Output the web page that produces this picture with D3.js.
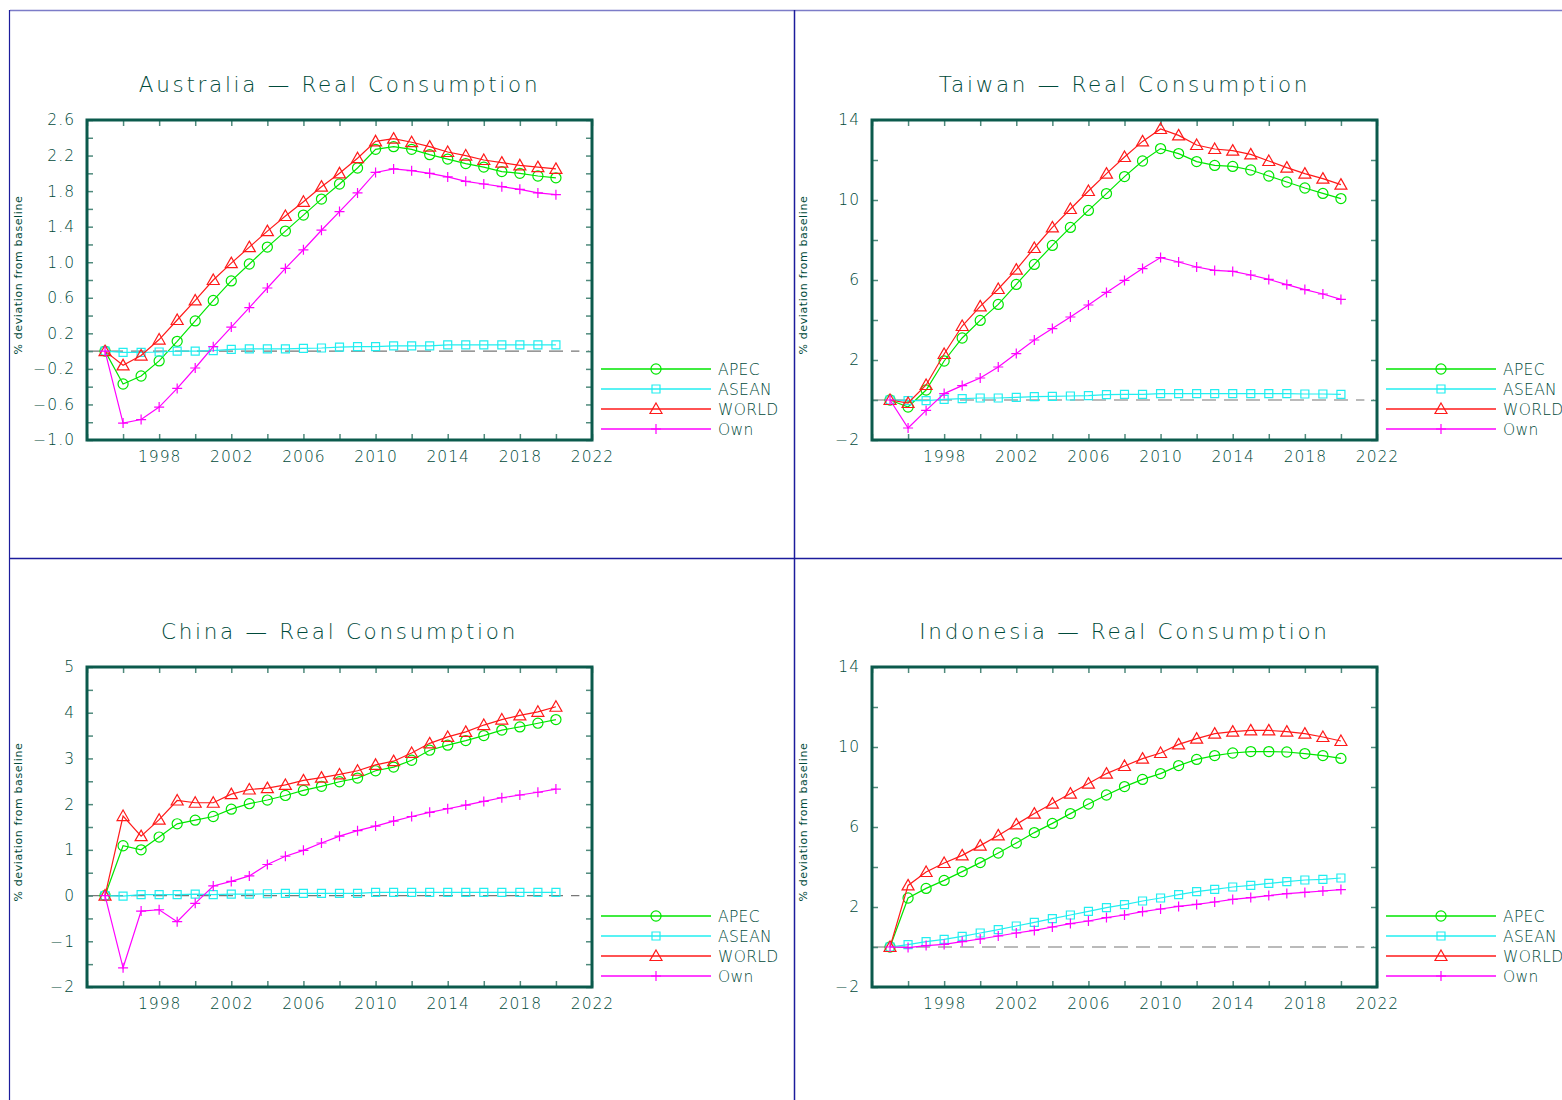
<!DOCTYPE html>
<html>
<head>
<meta charset="utf-8">
<script src="https://cdn.jsdelivr.net/npm/d3@7"></script>
<style>
  body { margin: 0; background: #fff; }
  svg { display: block; }
  text { font-family: "DejaVu Sans", sans-serif; font-weight: 200; fill: #004a3a; }
</style>
</head>
<body>
<div class="chart"></div>
<script>
// years 1995-2020
const years = d3.range(1995, 2021);
const seriesNames = ['APEC', 'ASEAN', 'WORLD', 'Own'];

// Australia
const ausApec  = [0,-0.37,-0.28,-0.11,0.11,0.34,0.57,0.79,0.98,1.17,1.35,1.53,1.71,1.88,2.06,2.27,2.30,2.27,2.21,2.16,2.11,2.07,2.02,2.00,1.97,1.95];
const ausAsean = [0,-0.015,-0.015,-0.01,0,0,0.005,0.02,0.025,0.025,0.025,0.03,0.035,0.045,0.05,0.05,0.06,0.06,0.06,0.07,0.07,0.07,0.07,0.07,0.07,0.07];
const ausWorld = [0,-0.16,-0.05,0.13,0.35,0.57,0.80,0.99,1.17,1.35,1.52,1.68,1.85,2.00,2.17,2.36,2.39,2.35,2.30,2.24,2.20,2.15,2.12,2.09,2.07,2.05];
const ausOwn   = [0,-0.81,-0.77,-0.63,-0.42,-0.19,0.05,0.27,0.49,0.71,0.93,1.14,1.36,1.57,1.78,2.01,2.05,2.03,2.00,1.96,1.91,1.88,1.85,1.82,1.78,1.76];

// Taiwan
const twnApec  = [0,-0.35,0.5,1.95,3.1,3.98,4.78,5.78,6.78,7.73,8.63,9.48,10.32,11.17,11.95,12.57,12.32,11.92,11.73,11.68,11.5,11.2,10.9,10.6,10.33,10.07];
const twnAsean = [0,-0.03,-0.03,0.03,0.07,0.1,0.1,0.13,0.17,0.18,0.2,0.22,0.27,0.28,0.28,0.32,0.32,0.32,0.32,0.32,0.32,0.32,0.32,0.3,0.3,0.28];
const twnWorld = [0,-0.15,0.75,2.3,3.7,4.68,5.55,6.52,7.6,8.63,9.55,10.45,11.32,12.15,12.93,13.55,13.23,12.75,12.55,12.47,12.28,11.95,11.62,11.32,11.07,10.77];
const twnOwn   = [0,-1.4,-0.52,0.32,0.72,1.1,1.65,2.32,3.0,3.57,4.15,4.75,5.38,5.98,6.57,7.12,6.9,6.65,6.48,6.43,6.25,6.03,5.77,5.52,5.3,5.03];

// China
const chnApec  = [0,1.09,1.0,1.28,1.57,1.65,1.73,1.89,2.01,2.09,2.19,2.30,2.39,2.49,2.57,2.73,2.81,2.96,3.18,3.29,3.39,3.50,3.62,3.69,3.77,3.85];
const chnAsean = [0,-0.01,0.02,0.02,0.02,0.03,0.02,0.03,0.03,0.04,0.05,0.05,0.05,0.05,0.05,0.07,0.07,0.07,0.07,0.07,0.07,0.07,0.07,0.07,0.07,0.07];
const chnWorld = [0,1.74,1.30,1.66,2.08,2.03,2.03,2.22,2.32,2.35,2.42,2.52,2.58,2.65,2.73,2.86,2.94,3.12,3.33,3.47,3.58,3.73,3.85,3.94,4.02,4.13];
const chnOwn   = [0,-1.58,-0.34,-0.31,-0.57,-0.17,0.21,0.31,0.43,0.68,0.86,0.99,1.15,1.30,1.42,1.52,1.63,1.73,1.82,1.90,1.98,2.06,2.14,2.20,2.26,2.33];

// Indonesia
const idnApec  = [0,2.45,2.93,3.33,3.77,4.22,4.7,5.2,5.72,6.18,6.67,7.15,7.6,8.02,8.38,8.67,9.07,9.38,9.57,9.7,9.77,9.77,9.75,9.67,9.57,9.43];
const idnAsean = [0,0.12,0.27,0.38,0.53,0.7,0.87,1.05,1.23,1.42,1.6,1.78,1.97,2.12,2.3,2.45,2.62,2.77,2.88,3.0,3.08,3.18,3.27,3.35,3.38,3.45];
const idnWorld = [0,3.08,3.75,4.2,4.58,5.07,5.58,6.13,6.67,7.17,7.67,8.17,8.67,9.05,9.42,9.7,10.13,10.42,10.67,10.77,10.83,10.83,10.77,10.67,10.5,10.3];
const idnOwn   = [0,-0.03,0.07,0.13,0.27,0.4,0.55,0.7,0.83,1.0,1.17,1.3,1.47,1.6,1.77,1.9,2.03,2.13,2.25,2.38,2.47,2.57,2.67,2.73,2.8,2.87];

// tick labels
const xLabelTicks = [1998, 2002, 2006, 2010, 2014, 2018, 2022];
const ausTicks = [-1.0,-0.6,-0.2,0.2,0.6,1.0,1.4,1.8,2.2,2.6];
const twnTicks = [-2,2,6,10,14];
const chnTicks = [-2,-1,0,1,2,3,4,5];
const idnTicks = [-2,2,6,10,14];

const panels = [
  {title:'Australia \u2014 Real Consumption', ox:0,   oy:0,   ticks:ausTicks, fmt:'.1f', data:[ausApec,ausAsean,ausWorld,ausOwn]},
  {title:'Taiwan \u2014 Real Consumption',    ox:785, oy:0,   ticks:twnTicks, fmt:'d',   data:[twnApec,twnAsean,twnWorld,twnOwn]},
  {title:'China \u2014 Real Consumption',     ox:0,   oy:547, ticks:chnTicks, fmt:'d',   data:[chnApec,chnAsean,chnWorld,chnOwn]},
  {title:'Indonesia \u2014 Real Consumption', ox:785, oy:547, ticks:idnTicks, fmt:'d',   data:[idnApec,idnAsean,idnWorld,idnOwn]}
];

const colors = {APEC:'#00e600', ASEAN:'#22eef0', WORLD:'#ff1a1a', Own:'#ff00ff'};
const ink = '#004a3a';
const frame = '#0b5a4c';

const W = 1562, H = 1100;
const svg = d3.select('.chart').append('svg').attr('width', W).attr('height', H);

// panel divider lines
svg.append('line').attr('x1',10).attr('x2',W).attr('y1',10.5).attr('y2',10.5).attr('stroke','#7c7cc8').attr('stroke-width',1.5);
svg.append('line').attr('x1',9.5).attr('x2',9.5).attr('y1',10).attr('y2',H).attr('stroke','#1c1c9c').attr('stroke-width',1.2);
svg.append('line').attr('x1',794.5).attr('x2',794.5).attr('y1',10).attr('y2',H).attr('stroke','#1c1c9c').attr('stroke-width',1.5);
svg.append('line').attr('x1',10).attr('x2',W).attr('y1',558.5).attr('y2',558.5).attr('stroke','#1c1c9c').attr('stroke-width',1.5);

const box = {left:87, top:120, width:505, height:320};

function markerPath(name){
  if(name==='APEC') return d3.symbol(d3.symbolCircle, 80)();
  if(name==='ASEAN') return 'M-4,-4H4V4H-4Z';
  if(name==='WORLD') return 'M0,-6L6,4.5H-6Z';
  return 'M-5,0H5M0,-5V5';
}

panels.forEach(p => {
  const g = svg.append('g').attr('transform', `translate(${p.ox},${p.oy})`);
  const x = d3.scaleLinear([1994, 2022], [box.left, box.left + box.width]);
  const yMin = d3.min(p.ticks), yMax = d3.max(p.ticks);
  const y = d3.scaleLinear([yMin, yMax], [box.top + box.height, box.top]);
  const step = p.ticks[1] - p.ticks[0];
  const minor = d3.range(0, Math.round((yMax - yMin) / (step / 2)) + 1).map(i => yMin + i * step / 2);
  const fmt = d3.format(p.fmt);
  const isLabel = v => p.ticks.some(t => Math.abs(t - v) < 1e-9);

  // title
  g.append('text')
    .attr('x', box.left + box.width / 2).attr('y', 92)
    .attr('text-anchor','middle')
    .style('font-size','21.5px').style('letter-spacing','2.7px')
    .text(p.title);

  // y label
  g.append('text')
    .attr('transform', `translate(22,${box.top + box.height / 2 - 5}) rotate(-90)`)
    .attr('text-anchor','middle')
    .style('font-size','11px').style('letter-spacing','0.6px').style('font-weight','400')
    .text('% deviation from baseline');

  // zero line
  g.append('line')
    .attr('x1', x(1994)).attr('x2', x(2021.3))
    .attr('y1', y(0)).attr('y2', y(0))
    .attr('stroke','#777').attr('stroke-width',1.2).attr('stroke-dasharray','14,8');
  g.append('circle').attr('cx', x(2021.8)).attr('cy', y(0)).attr('r',0.8).attr('fill','#999');

  // axes with inward ticks
  const xMinor = d3.range(1994, 2023, 2);
  const xb = g.append('g').attr('transform', `translate(0,${box.top + box.height})`)
    .call(d3.axisBottom(x).tickValues(xMinor).tickSize(-6).tickPadding(11)
      .tickFormat(d => xLabelTicks.includes(d) ? d : ''));
  const xt = g.append('g').attr('transform', `translate(0,${box.top})`)
    .call(d3.axisTop(x).tickValues(xMinor).tickSize(-6).tickFormat(''));
  const yl = g.append('g').attr('transform', `translate(${box.left},0)`)
    .call(d3.axisLeft(y).tickValues(minor).tickSize(-6).tickPadding(12)
      .tickFormat(d => isLabel(d) ? fmt(d) : ''));
  const yr = g.append('g').attr('transform', `translate(${box.left + box.width},0)`)
    .call(d3.axisRight(y).tickValues(minor).tickSize(-6).tickFormat(''));
  [xb, xt, yl, yr].forEach(a => {
    a.select('.domain').remove();
    a.selectAll('.tick line').attr('stroke','#4f8a7c').attr('stroke-width',1.5);
    a.selectAll('.tick text').style('font-size','15.5px').style('letter-spacing','1px')
      .style('font-family','"DejaVu Sans", sans-serif').style('font-weight','200').attr('fill', ink);
  });

  // series
  const line = d3.line().x((d, i) => x(years[i])).y(d => y(d));
  seriesNames.forEach((name, si) => {
    const vals = p.data[si];
    const sg = g.append('g');
    sg.append('path').attr('d', line(vals)).attr('fill','none')
      .attr('stroke', colors[name]).attr('stroke-width',1.2);
    sg.selectAll('path.mk').data(vals).join('path').attr('class','mk')
      .attr('transform', (d, i) => `translate(${x(years[i])},${y(d)})`)
      .attr('d', markerPath(name))
      .attr('fill','none').attr('stroke', colors[name]).attr('stroke-width',1.2);
  });

  // frame
  g.append('rect').attr('x', box.left).attr('y', box.top)
    .attr('width', box.width).attr('height', box.height)
    .attr('fill','none').attr('stroke', frame).attr('stroke-width',3);

  // legend
  seriesNames.forEach((name, i) => {
    const ly = box.top + 249 + i * 20;
    const lx1 = box.left + box.width + 9, lx2 = box.left + box.width + 119;
    g.append('line').attr('x1', lx1).attr('x2', lx2).attr('y1', ly).attr('y2', ly)
      .attr('stroke', colors[name]).attr('stroke-width',1.3);
    g.append('path').attr('transform', `translate(${(lx1 + lx2) / 2},${ly})`)
      .attr('d', markerPath(name)).attr('fill','none').attr('stroke', colors[name]).attr('stroke-width',1.2);
    g.append('text').attr('x', lx2 + 7).attr('y', ly + 6)
      .style('font-size','15.5px').style('letter-spacing','0.3px')
      .text(name);
  });
});
</script>
</body>
</html>
